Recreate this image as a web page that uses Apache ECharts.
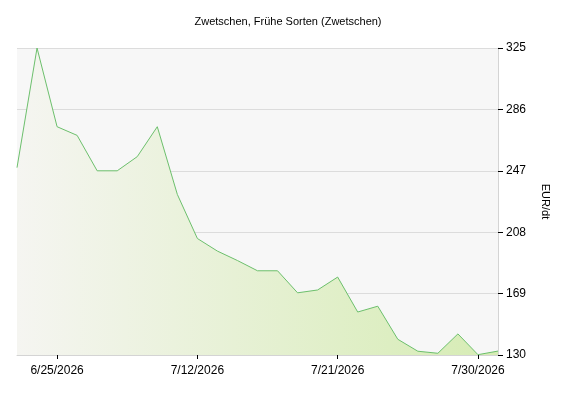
<!DOCTYPE html>
<html>
<head>
<meta charset="utf-8">
<script src="https://cdn.jsdelivr.net/npm/echarts@6/dist/echarts.min.js"></script>
<style>html,body{margin:0;padding:0;background:#fff}#c{width:576px;height:400px}</style>
</head>
<body>
<div id="c"></div>
<script>
const titleText = 'Zwetschen, Frühe Sorten (Zwetschen)';
const unitName = 'EUR/dt';
const dates = ['6/22/2026','6/23/2026','6/25/2026','6/26/2026','6/29/2026','6/30/2026','7/2/2026','7/3/2026','7/9/2026',
  '7/12/2026','7/13/2026','7/14/2026','7/15/2026','7/16/2026','7/17/2026','7/20/2026',
  '7/21/2026','7/22/2026','7/23/2026','7/24/2026','7/27/2026','7/28/2026','7/29/2026','7/30/2026','7/31/2026'];
const prices = [249,325,275,269.5,247,247,256,275,232,204,196,190,183.5,183.5,169.5,171.3,179.5,157.3,161,140,132.4,131.1,143.4,130.2,132.5];
const yTicks = [130,169,208,247,286,325];

const chart = echarts.init(document.getElementById('c'));
const labelIdx = (i) => i % 7 === 2;
chart.setOption({
  animation: false,
  title: {text: titleText, left: 'center', top: 11,
    textStyle: {fontFamily: 'Liberation Sans', fontSize: 11, fontWeight: 'normal', color: '#000'}},
  grid: {left: 17, right: 78, top: 48, bottom: 45, show: true, backgroundColor: '#f7f7f7', borderWidth: 0},
  xAxis: {
    type: 'category', data: dates, boundaryGap: false,
    axisLine: {lineStyle: {color: '#d4d4d4'}},
    axisTick: {interval: labelIdx, length: 4, lineStyle: {color: '#000'}},
    axisLabel: {interval: labelIdx, color: '#000', fontFamily: 'Liberation Sans', fontSize: 12, margin: 10},
    splitLine: {show: false}
  },
  yAxis: {
    type: 'value', position: 'right', min: yTicks[0], max: yTicks[yTicks.length-1], interval: 39,
    name: unitName, nameLocation: 'middle', nameRotate: -90, nameGap: 42,
    nameTextStyle: {color: '#000', fontFamily: 'Liberation Sans', fontSize: 11},
    axisLine: {show: true, lineStyle: {color: '#d4d4d4'}},
    axisTick: {show: true, length: 5, lineStyle: {color: '#000'}},
    axisLabel: {color: '#000', fontFamily: 'Liberation Sans', fontSize: 12, margin: 8},
    splitLine: {lineStyle: {color: '#dcdcdc'}}
  },
  series: [{
    type: 'line', data: prices, symbol: 'none',
    lineStyle: {color: '#6cbf6c', width: 1},
    areaStyle: {opacity: 1, color: new echarts.graphic.LinearGradient(0, 0, 1, 0, [
      {offset: 0, color: '#f5f5f1'}, {offset: 1, color: '#d6ecb4'}])}
  }]
});
</script>
</body>
</html>
